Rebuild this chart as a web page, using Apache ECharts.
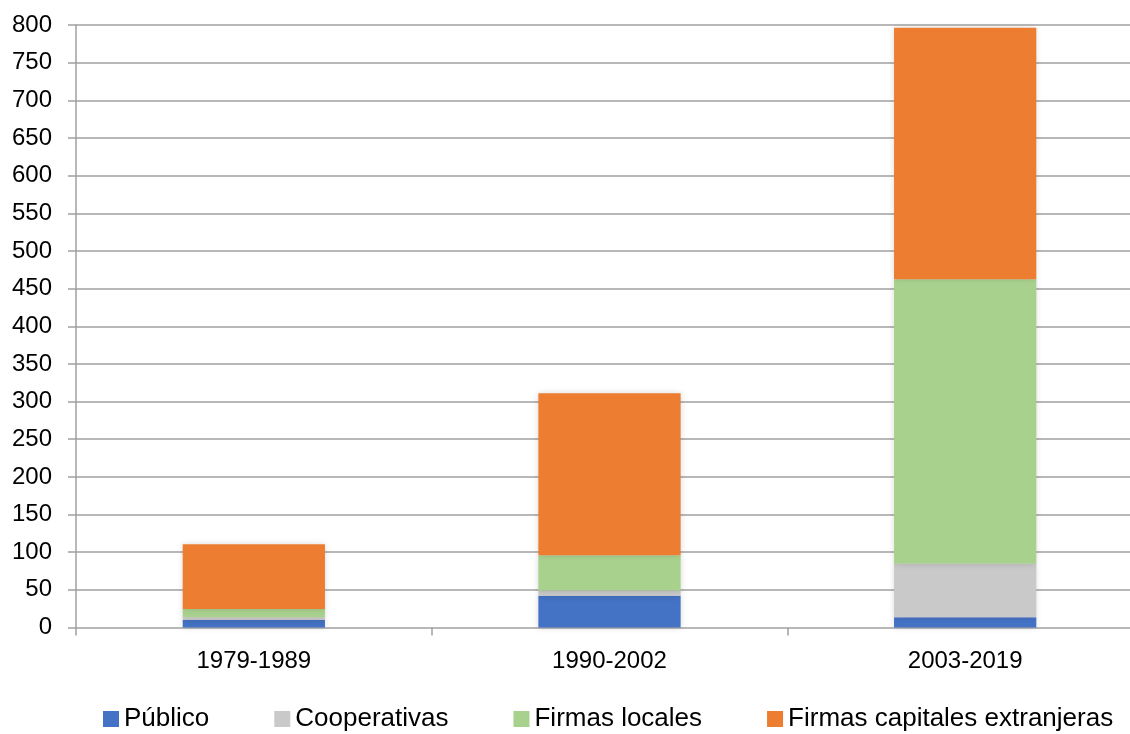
<!DOCTYPE html>
<html>
<head>
<meta charset="utf-8">
<script src="https://cdn.jsdelivr.net/npm/echarts@6/dist/echarts.min.js"></script>
<style>
  html, body { margin: 0; padding: 0; background: #fff; overflow: hidden; }
  /* plot area runs a little past the right edge of the window */
  #chart { width: 1143px; height: 734px; }
</style>
</head>
<body>
<div id="chart"></div>
<script>
// Periods on the category axis
const periods = ['1979-1989', '1990-2002', '2003-2019'];

// Stacked values per ownership type
const publico = [10, 42, 13.5];
const cooperativas = [3.5, 7, 71];
const firmasLocales = [11, 47, 378];
const firmasExtranjeras = [86, 215, 334];

const seriesNames = ['Público', 'Cooperativas', 'Firmas locales', 'Firmas capitales extranjeras'];
const seriesColors = ['#4472C4', '#C9C9C9', '#A9D18E', '#ED7D31'];
const seriesData = [publico, cooperativas, firmasLocales, firmasExtranjeras];

const font = 'Liberation Sans, Arial, sans-serif';

const chart = echarts.init(document.getElementById('chart'));

chart.setOption({
  animation: false,
  grid: { left: 76, top: 25, right: 0, height: 602.5, containLabel: false },
  legend: {
    left: 98,
    top: 701,
    itemWidth: 16,
    itemHeight: 16,
    itemGap: 65,
    icon: 'rect',
    textStyle: { fontFamily: font, fontSize: 26, color: '#000' },
    data: seriesNames
  },
  xAxis: {
    type: 'category',
    data: periods,
    axisLine: { show: false },
    axisTick: { show: true, length: 8, lineStyle: { color: '#a0a0a0', width: 1.5 } },
    axisLabel: { fontFamily: font, fontSize: 24, color: '#000', margin: 22 }
  },
  yAxis: {
    type: 'value',
    min: 0,
    max: 800,
    interval: 50,
    axisLine: { show: true, lineStyle: { color: '#a0a0a0', width: 1.5 } },
    axisTick: { show: true, length: 8, lineStyle: { color: '#a0a0a0', width: 1.5 } },
    axisLabel: { fontFamily: font, fontSize: 24, color: '#000', margin: 24 },
    splitLine: { show: true, lineStyle: { color: '#a0a0a0', width: 1.5 } }
  },
  series: seriesData.map((values, i) => ({
    name: seriesNames[i],
    type: 'bar',
    stack: 'total',
    barWidth: '40%',
    data: values,
    itemStyle: {
      color: seriesColors[i],
      shadowBlur: 6,
      shadowColor: 'rgba(0,0,0,0.15)'
    }
  }))
});
</script>
</body>
</html>
